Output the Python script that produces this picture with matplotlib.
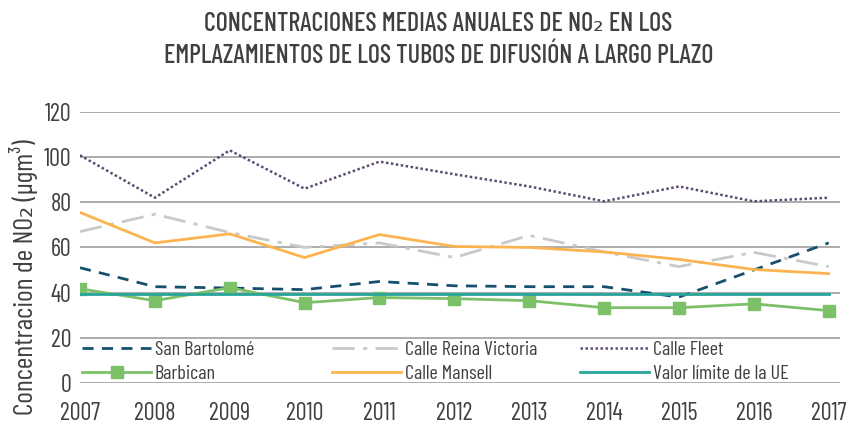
import matplotlib
matplotlib.use('Agg')
import matplotlib.pyplot as plt
from matplotlib.legend import Legend

plt.rcParams['font.family'] = ['Barlow Condensed', 'DejaVu Sans']

years = [2007, 2008, 2009, 2010, 2011, 2012, 2013, 2014, 2015, 2016, 2017]
san_bartolome = [51, 42.6, 42, 41.3, 44.9, 43, 42.6, 42.6, 38, 50, 62]
reina_victoria = [67, 74.7, 66.6, 60, 62, 55.5, 65.3, 58, 51.5, 57.8, 51.5]
calle_fleet = [100.8, 82, 103, 86, 98, 92.4, 87, 80.4, 87, 80.4, 82]
barbican = [41.7, 36.4, 42.2, 35.5, 37.8, 37.3, 36.4, 33.3, 33.3, 35, 32]
calle_mansell = [75.5, 62, 66, 55.5, 65.7, 60.4, 60, 58, 54.7, 50.2, 48.4]
valor_limite = [39.5] * len(years)

title_1 = 'CONCENTRACIONES MEDIAS ANUALES DE NO\u2082 EN LOS'
title_2 = 'EMPLAZAMIENTOS DE LOS TUBOS DE DIFUSIÓN A LARGO PLAZO'
ylabel = 'Concentracion de NO\u2082 (µgm\u00b3)'

txt = '#404040'
fig = plt.figure(figsize=(8.51, 4.24), dpi=100)
ax = fig.add_axes([0.094, 0.097, 0.893, 0.639])

l1, = ax.plot(years, san_bartolome, color='#17506f', lw=2, ls=(0, (4, 3)), label='San Bartolomé')
l2, = ax.plot(years, reina_victoria, color='#c9c9c9', lw=2, ls=(0, (8, 3, 1.5, 3)), label='Calle Reina Victoria')
l3, = ax.plot(years, calle_fleet, color='#5e4b72', lw=1.8, ls=(0, (1, 1)), label='Calle Fleet')
l4, = ax.plot(years, barbican, color='#7cc168', lw=2, marker='s', ms=9, label='Barbican')
l5, = ax.plot(years, calle_mansell, color='#fbb450', lw=2, label='Calle Mansell')
l6, = ax.plot(years, valor_limite, color='#27a59a', lw=2, label='Valor límite de la UE')

ax.set_ylim(0, 120)
ax.set_xlim(2007, 2017.15)
ax.set_yticks(range(0, 121, 20))
ax.set_xticks(years)
ax.yaxis.grid(True, color='#a6a6a6', lw=1.3)
ax.set_axisbelow(True)
for s in ax.spines.values():
    s.set_visible(False)
ax.tick_params(length=0, labelsize=17.5, colors=txt, pad=6)
ax.tick_params(axis='x', pad=14)

# three legend columns placed separately (fixed column starts as in the original)
cols = [([l1, l4], 0.003), ([l2, l5], 0.332), ([l3, l6], 0.658)]
for handles, x0 in cols:
    leg = Legend(ax, handles, [h.get_label() for h in handles], loc='center left',
                 bbox_to_anchor=(x0, 0.078), frameon=False, fontsize=14.5,
                 handlelength=3.4, borderpad=0, borderaxespad=0,
                 labelspacing=0.3, handletextpad=0.2)
    for t in leg.get_texts():
        t.set_color(txt)
    ax.add_artist(leg)

fig.text(0.028, 0.347, ylabel, rotation=90, ha='center', va='center', fontsize=20, color=txt)
fig.text(0.515, 0.927, title_1, ha='center', va='baseline', fontsize=18.8, fontweight=500, color=txt)
fig.text(0.515, 0.851, title_2, ha='center', va='baseline', fontsize=18.8, fontweight=500, color=txt)

fig.savefig('out.png', dpi=100)
